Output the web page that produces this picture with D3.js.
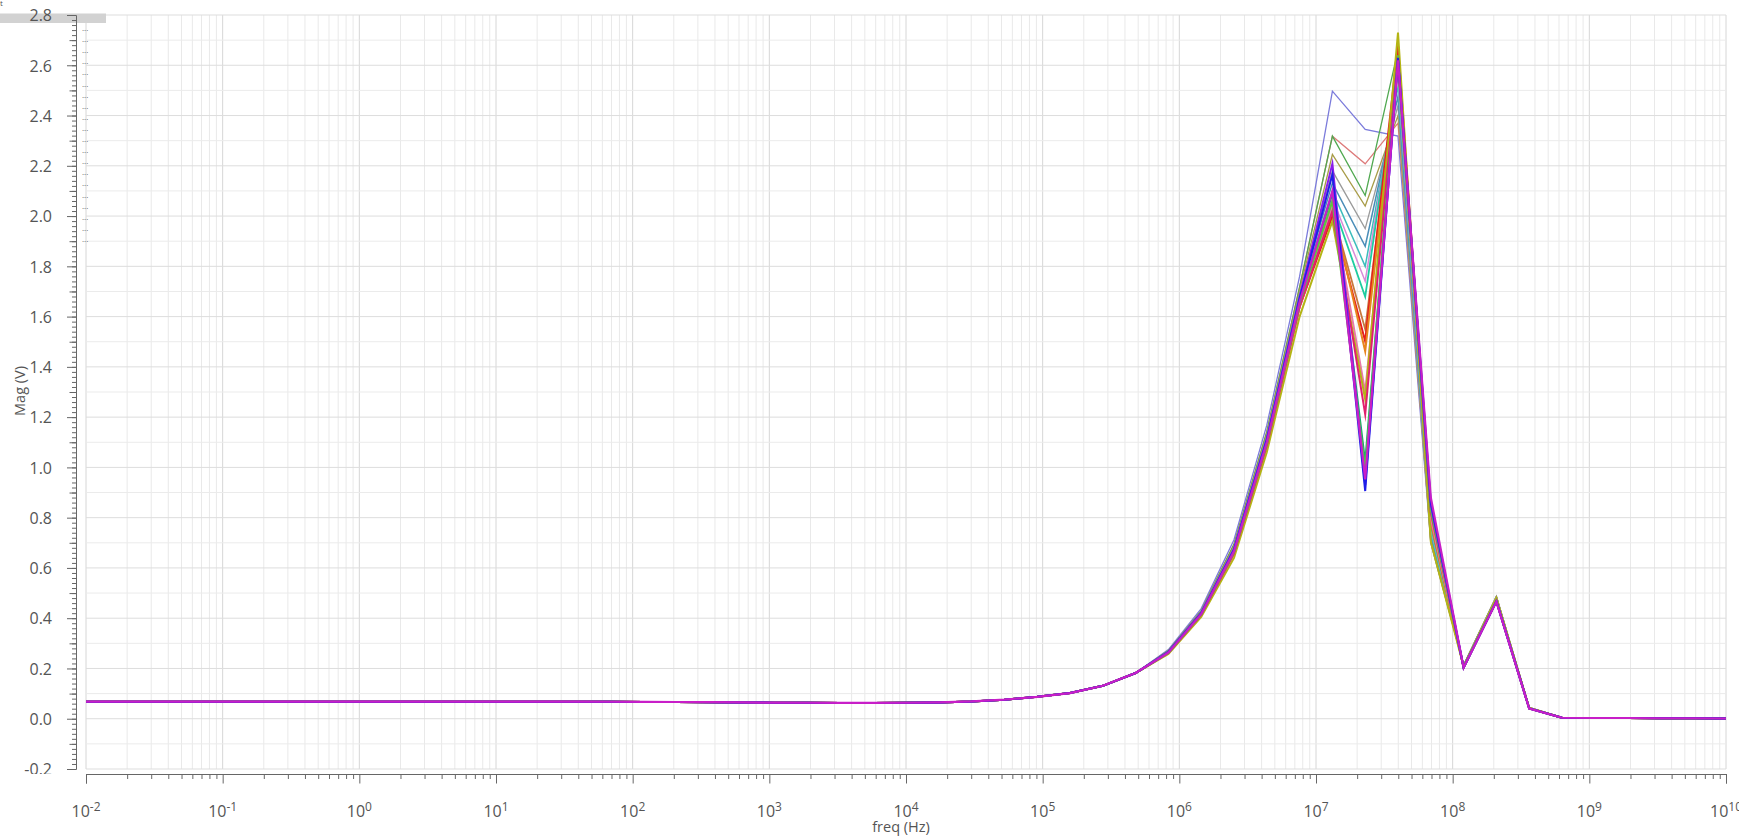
<!DOCTYPE html>
<html>
<head>
<meta charset="utf-8">
<script src="https://cdn.jsdelivr.net/npm/d3@7"></script>
<style>
  html, body { margin: 0; padding: 0; background: #ffffff; }
  svg { display: block; font-family: "Open Sans", "Noto Sans", sans-serif; }
</style>
</head>
<body>
<script>
// Sweep frequencies (Hz), 51 log-spaced points from 10 mHz to 10 GHz
const freq = [
  0.01, 0.017378, 0.030200, 0.052481, 0.091201, 0.15849, 0.27542, 0.47863, 0.83176,
  1.4454, 2.5119, 4.3652, 7.5858, 13.183, 22.909, 39.811, 69.183, 120.23, 208.93,
  363.08, 630.96, 1096.5, 1905.5, 3311.3, 5754.4, 10000, 17378, 30200, 52481, 91201,
  158490, 275420, 478630, 831760, 1.4454e6, 2.5119e6, 4.3652e6, 7.5858e6, 1.3183e7,
  2.2909e7, 3.9811e7, 6.9183e7, 1.2023e8, 2.0893e8, 3.6308e8, 6.3096e8, 1.0965e9,
  1.9055e9, 3.3113e9, 5.7544e9, 1e10
];

// Magnitude (V) shared by every sweep below 0.5 MHz
const magLow = [
  0.068, 0.068, 0.068, 0.068, 0.068, 0.068, 0.068, 0.068, 0.068, 0.068, 0.068,
  0.068, 0.068, 0.068, 0.068, 0.068, 0.0675, 0.067, 0.0665, 0.066, 0.065, 0.064,
  0.0635, 0.063, 0.063, 0.0635, 0.065, 0.069, 0.076, 0.087, 0.102, 0.131, 0.182
];

// Magnitude (V) shared by every sweep above 600 MHz
const magHigh = [0.004, 0.003, 0.003, 0.002, 0.002, 0.001];

// Per-sweep magnitude (V) from 0.83 MHz to 363 MHz
const magSlate     = [0.275, 0.438, 0.712, 1.168, 1.760, 2.497, 2.345, 2.318, 0.700, 0.214, 0.487, 0.045];
const magSalmon    = [0.271, 0.429, 0.694, 1.141, 1.717, 2.318, 2.208, 2.370, 0.712, 0.212, 0.485, 0.044];
const magGreen     = [0.271, 0.429, 0.694, 1.141, 1.717, 2.318, 2.082, 2.660, 0.722, 0.211, 0.484, 0.044];
const magOlive     = [0.269, 0.427, 0.688, 1.132, 1.704, 2.245, 2.040, 2.400, 0.708, 0.212, 0.486, 0.044];
const magGray      = [0.268, 0.424, 0.682, 1.123, 1.691, 2.180, 1.950, 2.440, 0.700, 0.213, 0.487, 0.045];
const magSteel     = [0.267, 0.423, 0.679, 1.119, 1.685, 2.132, 1.880, 2.477, 0.732, 0.210, 0.480, 0.043];
const magCyan      = [0.266, 0.421, 0.676, 1.114, 1.678, 2.100, 1.800, 2.520, 0.742, 0.209, 0.478, 0.043];
const magOrchid    = [0.266, 0.420, 0.673, 1.110, 1.672, 2.070, 1.741, 2.550, 0.758, 0.208, 0.476, 0.043];
const magTurquoise = [0.265, 0.419, 0.670, 1.105, 1.665, 2.054, 1.679, 2.580, 0.768, 0.207, 0.474, 0.042];
const magBrown     = [0.263, 0.414, 0.661, 1.092, 1.646, 2.020, 1.550, 2.600, 0.778, 0.206, 0.472, 0.042];
const magRed       = [0.262, 0.413, 0.658, 1.087, 1.639, 2.000, 1.502, 2.680, 0.800, 0.205, 0.470, 0.042];
const magOrange    = [0.262, 0.413, 0.658, 1.087, 1.639, 2.030, 1.462, 2.620, 0.790, 0.205, 0.471, 0.042];
const magPink      = [0.262, 0.413, 0.658, 1.087, 1.639, 2.040, 1.300, 2.630, 0.800, 0.205, 0.470, 0.042];
const magYellow    = [0.258, 0.405, 0.640, 1.060, 1.600, 1.980, 1.270, 2.730, 0.705, 0.208, 0.480, 0.043];
const magCrimson   = [0.262, 0.413, 0.658, 1.087, 1.639, 2.020, 1.211, 2.640, 0.820, 0.204, 0.469, 0.041];
const magTealGreen = [0.264, 0.417, 0.667, 1.101, 1.659, 2.090, 1.020, 2.620, 0.840, 0.204, 0.468, 0.041];
const magLime      = [0.264, 0.416, 0.664, 1.096, 1.652, 2.060, 0.990, 2.640, 0.830, 0.204, 0.468, 0.041];
const magViolet    = [0.266, 0.421, 0.676, 1.114, 1.678, 2.209, 0.930, 2.620, 0.850, 0.203, 0.467, 0.041];
const magBlue      = [0.266, 0.420, 0.673, 1.110, 1.672, 2.165, 0.906, 2.630, 0.860, 0.203, 0.467, 0.041];
const magMagenta   = [0.264, 0.417, 0.667, 1.101, 1.659, 2.100, 0.952, 2.620, 0.880, 0.203, 0.466, 0.040];

const peakSets = [
  magSlate, magSalmon, magGreen, magOlive, magGray, magSteel, magCyan, magOrchid,
  magTurquoise, magBrown, magRed, magOrange, magPink, magYellow, magCrimson,
  magTealGreen, magLime, magViolet, magBlue, magMagenta
];

// Axis ticks
const yTicks = [-0.2, 0.0, 0.2, 0.4, 0.6, 0.8, 1.0, 1.2, 1.4, 1.6, 1.8, 2.0, 2.2, 2.4, 2.6, 2.8];
const xExponents = [-2, -1, 0, 1, 2, 3, 4, 5, 6, 7, 8, 9, 10];

// Line styles, one per sweep
const lineColors = [
  "#7b7bdb", "#dd7a7a", "#50a850", "#a89c48", "#9a9a9a", "#4a8db8", "#3cbcbc", "#d88ad8",
  "#1ecca0", "#c8783c", "#e41e1e", "#e8841e", "#e878a8", "#b4b414", "#e0206e",
  "#14a078", "#5cc83c", "#8a1ee8", "#1e1ee8", "#c81ec8"
];
const lineWidths = [1.3, 1.3, 1.3, 1.3, 1.3, 1.5, 1.5, 1.5, 1.8, 1.8, 2, 2, 2, 2, 2, 2, 2, 2, 2, 2.2];

const W = 1739, H = 838;
const plot = { left: 86, right: 1726, top: 15, bottom: 769 };

const x = d3.scaleLog().domain([1e-2, 1e10]).range([plot.left, plot.right]);
const y = d3.scaleLinear().domain([-0.2, 2.8]).range([plot.bottom, plot.top]);

const svg = d3.select("body").append("svg").attr("width", W).attr("height", H);
const defs = svg.append("defs");
defs.append("clipPath").attr("id", "plotClip")
  .append("rect").attr("x", plot.left).attr("y", plot.top - 2)
  .attr("width", plot.right - plot.left).attr("height", plot.bottom - plot.top + 4);
defs.append("clipPath").attr("id", "yAxisClip")
  .append("rect").attr("x", 0).attr("y", 0).attr("width", 85).attr("height", 774);

// Grid: every 1..9 x decade vertically, every 0.1 V horizontally
const xMinor = [];
xExponents.forEach(e => {
  for (let m = 1; m <= 9; m++) {
    const v = m * Math.pow(10, e);
    if (v <= 1e10 * 1.0001) xMinor.push({ v, major: m === 1 });
  }
});
const yGrid = d3.range(-2, 29).map(k => ({ v: k / 10, major: k % 2 === 0 }));

const grid = svg.append("g");
grid.selectAll("line.gx").data(xMinor).join("line")
  .attr("x1", d => x(d.v)).attr("x2", d => x(d.v))
  .attr("y1", plot.top).attr("y2", plot.bottom)
  .attr("stroke", d => d.major ? "#d6d6d6" : "#e9e9e9")
  .attr("stroke-width", 1);
grid.selectAll("line.gy").data(yGrid).join("line")
  .attr("x1", plot.left).attr("x2", plot.right)
  .attr("y1", d => y(d.v)).attr("y2", d => y(d.v))
  .attr("stroke", d => d.major ? "#dddddd" : "#ebebeb")
  .attr("stroke-width", 1);

// Header bar at the top left
svg.append("rect").attr("x", 0).attr("y", 13.5).attr("width", 106).attr("height", 9.5).attr("fill", "#d2d2d2");
svg.append("text").attr("x", 0).attr("y", 6).attr("font-size", 8).attr("fill", "#555").text("t");

// Y axis: minor (0.02), medium (0.1) and major (0.2, labelled) ticks
const yAxisG = svg.append("g").attr("clip-path", "url(#yAxisClip)");
const yMinorVals = d3.range(-10, 141).map(k => k / 50);
const yMidVals = d3.range(-2, 29).filter(k => k % 2 !== 0).map(k => k / 10);

yAxisG.append("g").attr("transform", "translate(76,0)")
  .call(d3.axisLeft(y).tickValues(yMinorVals).tickSize(4).tickSizeOuter(0).tickFormat(""))
  .call(g => g.select(".domain").remove())
  .call(g => g.selectAll("line").attr("stroke", "#666"));
yAxisG.append("g").attr("transform", "translate(76,0)")
  .call(d3.axisLeft(y).tickValues(yMidVals).tickSize(6.5).tickSizeOuter(0).tickFormat(""))
  .call(g => g.select(".domain").remove())
  .call(g => g.selectAll("line").attr("stroke", "#666"));
yAxisG.append("g").attr("transform", "translate(76,0)")
  .call(d3.axisLeft(y).tickValues(yTicks).tickSize(9).tickPadding(15).tickFormat(d => d.toFixed(1)))
  .call(g => g.select(".domain").attr("stroke", "#666"))
  .call(g => g.selectAll("line").attr("stroke", "#666"))
  .call(g => g.selectAll("text").attr("font-size", 16).attr("fill", "#555")
    .attr("font-family", "'Open Sans', sans-serif").attr("dy", "0.36em"));

// X axis: minor and decade ticks
svg.append("g").attr("transform", `translate(0,774)`)
  .call(d3.axisBottom(x).tickValues(xMinor.filter(d => !d.major).map(d => d.v)).tickSize(5).tickSizeOuter(0).tickFormat(""))
  .call(g => g.select(".domain").remove())
  .call(g => g.selectAll("line").attr("stroke", "#666"));
svg.append("g").attr("transform", `translate(0,774)`)
  .call(d3.axisBottom(x).tickValues(xExponents.map(e => Math.pow(10, e))).tickSize(9.5).tickFormat(""))
  .call(g => g.select(".domain").attr("stroke", "#666"))
  .call(g => g.selectAll("line").attr("stroke", "#666"));

const xLabels = svg.append("g").attr("font-size", 16).attr("fill", "#555").attr("text-anchor", "middle");
xExponents.forEach(e => {
  const t = xLabels.append("text").attr("x", x(Math.pow(10, e))).attr("y", 817);
  t.append("tspan").text("10");
  t.append("tspan").attr("dy", -6.5).attr("font-size", 12).text(String(e));
});

// Axis titles
svg.append("text").attr("x", 901).attr("y", 832).attr("text-anchor", "middle")
  .attr("font-size", 14.5).attr("fill", "#555").text("freq (Hz)");
svg.append("text").attr("transform", "translate(25,391) rotate(-90)").attr("text-anchor", "middle")
  .attr("font-size", 14.5).attr("fill", "#555").text("Mag (V)");

// Legend entries (names truncated to an ellipsis)
const legend = svg.append("g").attr("font-size", 8).attr("fill", "#666");
peakSets.forEach((_, k) => {
  legend.append("text").attr("x", 82).attr("y", 31 + k * 11.1).text("...");
});

// Sweeps
const series = peakSets.map((peak, k) => ({
  values: magLow.concat(peak, magHigh).map((v, i) => ({ f: freq[i], v })),
  color: lineColors[k],
  width: lineWidths[k]
}));

const line = d3.line().x(d => x(d.f)).y(d => y(d.v));
svg.append("g").attr("clip-path", "url(#plotClip)")
  .selectAll("path").data(series).join("path")
  .attr("d", d => line(d.values))
  .attr("fill", "none")
  .attr("stroke", d => d.color)
  .attr("stroke-width", d => d.width)
  .attr("stroke-linejoin", "miter")
  .attr("stroke-miterlimit", 10);
</script>
</body>
</html>
